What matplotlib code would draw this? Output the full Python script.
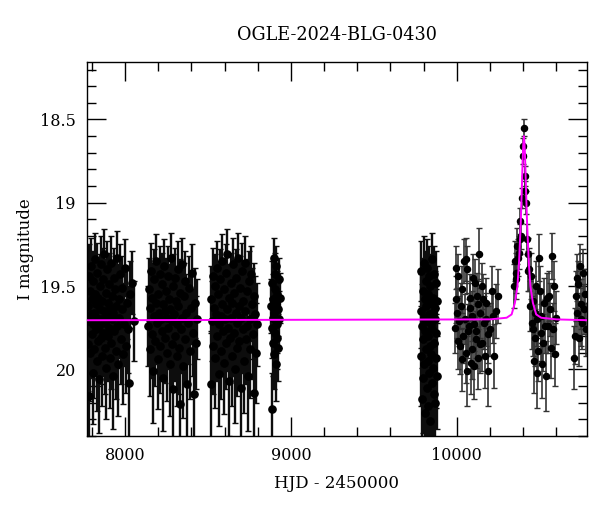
import matplotlib
matplotlib.use('Agg')
import matplotlib.pyplot as plt
import numpy as np
from matplotlib.ticker import MultipleLocator

plt.rcParams['font.family'] = 'DejaVu Serif'

# OGLE seasons: HJD - 2450000, I magnitude, error
s1_t = [7776, 7779, 7781, 7784, 7786, 7789, 7792, 7794, 7797, 7799, 7802, 7805, 7807, 7810, 7812, 7815,
        7818, 7821, 7823, 7826, 7829, 7831, 7834, 7837, 7840, 7842, 7845, 7848, 7851, 7853, 7856, 7859,
        7862, 7864, 7867, 7870, 7873, 7876, 7878, 7881, 7884, 7887, 7890, 7893, 7896, 7899, 7902, 7905,
        7908, 7911, 7914, 7917, 7920, 7923, 7927, 7930, 7933, 7936, 7940, 7943, 7947, 7950, 7954, 7958,
        7962, 7966, 7970, 7974, 7979, 7983, 7988, 7993, 7998, 8004, 8010, 8017, 8024, 8032, 8041, 8052]
s1_mag = [19.62, 19.85, 19.44, 20.16, 19.71, 19.53, 19.90, 19.67, 19.38, 19.79,
          19.58, 20.02, 19.73, 19.47, 19.66, 19.88, 19.55, 19.34, 19.76, 19.61,
          19.95, 19.69, 19.42, 19.83, 19.57, 19.74, 20.06, 19.50, 19.64, 19.81,
          19.37, 19.70, 19.92, 19.59, 19.46, 19.78, 19.65, 19.31, 19.87, 19.72,
          19.54, 19.99, 19.68, 19.40, 19.80, 19.60, 19.75, 19.49, 19.93, 19.63,
          19.36, 19.84, 19.70, 19.56, 20.04, 19.66, 19.45, 19.77, 19.52, 19.89,
          19.62, 19.33, 19.74, 19.97, 19.58, 19.69, 19.43, 19.82, 19.64, 19.51,
          19.91, 19.73, 19.39, 19.86, 19.60, 19.76, 20.08, 19.55, 19.48, 19.71]
s1_err = [0.22, 0.28, 0.19, 0.33, 0.24, 0.20, 0.29, 0.23, 0.17, 0.26,
          0.21, 0.31, 0.25, 0.18, 0.23, 0.29, 0.20, 0.16, 0.26, 0.22,
          0.30, 0.24, 0.18, 0.27, 0.21, 0.25, 0.32, 0.19, 0.23, 0.28,
          0.17, 0.24, 0.30, 0.21, 0.19, 0.26, 0.23, 0.15, 0.28, 0.25,
          0.20, 0.31, 0.24, 0.17, 0.27, 0.22, 0.25, 0.19, 0.30, 0.23,
          0.16, 0.28, 0.24, 0.20, 0.32, 0.23, 0.18, 0.26, 0.20, 0.29,
          0.22, 0.16, 0.25, 0.31, 0.21, 0.24, 0.18, 0.27, 0.23, 0.19,
          0.30, 0.25, 0.17, 0.28, 0.22, 0.26, 0.33, 0.20, 0.19, 0.24]

s2_t = [8141, 8145, 8149, 8153, 8157, 8161, 8165, 8169, 8173, 8177, 8181, 8185, 8189, 8193, 8197, 8201,
        8205, 8209, 8213, 8217, 8221, 8224, 8228, 8232, 8236, 8240, 8243, 8247, 8251, 8255, 8258, 8262,
        8266, 8270, 8273, 8277, 8281, 8285, 8288, 8292, 8296, 8300, 8303, 8307, 8311, 8315, 8318, 8322,
        8326, 8330, 8334, 8338, 8342, 8346, 8350, 8355, 8359, 8364, 8369, 8374, 8379, 8385, 8391, 8397,
        8403, 8410, 8416, 8422, 8428, 8434]
s2_mag = [19.74, 19.52, 19.88, 19.63, 19.41, 19.79, 19.57, 20.01, 19.68, 19.46,
          19.83, 19.60, 19.35, 19.72, 19.94, 19.55, 19.66, 19.43, 19.86, 19.70,
          19.49, 19.77, 20.05, 19.61, 19.38, 19.81, 19.65, 19.53, 19.90, 19.69,
          19.44, 19.75, 19.58, 19.97, 19.64, 19.33, 19.85, 19.71, 19.50, 20.12,
          19.67, 19.45, 19.80, 19.59, 19.92, 19.73, 19.40, 19.62, 19.87, 20.21,
          19.54, 19.76, 19.37, 19.69, 19.98, 19.56, 19.82, 19.47, 19.66, 20.09,
          19.72, 19.51, 19.89, 19.63, 19.42, 19.78, 20.15, 19.60, 19.84, 19.70]
s2_err = [0.24, 0.19, 0.28, 0.22, 0.17, 0.26, 0.21, 0.31, 0.23, 0.18,
          0.27, 0.21, 0.16, 0.25, 0.30, 0.20, 0.23, 0.17, 0.28, 0.24,
          0.19, 0.26, 0.32, 0.22, 0.16, 0.27, 0.23, 0.20, 0.29, 0.24,
          0.18, 0.25, 0.21, 0.31, 0.23, 0.15, 0.28, 0.24, 0.19, 0.33,
          0.23, 0.18, 0.27, 0.21, 0.30, 0.25, 0.17, 0.22, 0.28, 0.34,
          0.20, 0.26, 0.16, 0.24, 0.31, 0.20, 0.27, 0.18, 0.23, 0.32,
          0.25, 0.19, 0.29, 0.22, 0.17, 0.26, 0.33, 0.21, 0.28, 0.24]

s3_t = [8516, 8520, 8524, 8528, 8532, 8536, 8540, 8544, 8548, 8552, 8556, 8560, 8564, 8568, 8572, 8576,
        8580, 8583, 8587, 8591, 8595, 8598, 8602, 8606, 8610, 8613, 8617, 8621, 8625, 8628, 8632, 8636,
        8640, 8643, 8647, 8651, 8655, 8658, 8662, 8666, 8670, 8673, 8677, 8681, 8685, 8689, 8693, 8697,
        8701, 8705, 8709, 8713, 8717, 8721, 8725, 8729, 8733, 8737, 8742, 8746, 8751, 8755, 8760, 8765,
        8770, 8775, 8780, 8785, 8790, 8794]
s3_mag = [19.58, 20.09, 19.71, 19.44, 19.86, 19.63, 19.50, 19.93, 19.67, 19.39,
          19.80, 19.55, 20.03, 19.73, 19.46, 19.68, 19.89, 19.35, 19.61, 19.77,
          19.52, 19.96, 19.70, 19.42, 19.84, 19.64, 19.31, 19.75, 20.07, 19.57,
          19.81, 19.48, 19.69, 19.92, 19.60, 19.37, 19.78, 19.54, 20.00, 19.66,
          19.45, 19.87, 19.72, 19.33, 19.62, 19.83, 19.51, 20.11, 19.69, 19.41,
          19.76, 19.59, 19.95, 19.65, 19.36, 19.82, 19.53, 19.74, 20.04, 19.47,
          19.70, 19.88, 19.43, 19.61, 19.79, 20.14, 19.56, 19.67, 19.90, 19.73]
s3_err = [0.20, 0.32, 0.24, 0.17, 0.29, 0.22, 0.19, 0.30, 0.23, 0.16,
          0.27, 0.20, 0.31, 0.25, 0.18, 0.23, 0.29, 0.16, 0.21, 0.26,
          0.19, 0.31, 0.24, 0.17, 0.28, 0.22, 0.15, 0.26, 0.33, 0.20,
          0.27, 0.18, 0.24, 0.30, 0.21, 0.16, 0.26, 0.20, 0.32, 0.23,
          0.17, 0.29, 0.25, 0.15, 0.22, 0.28, 0.19, 0.34, 0.24, 0.17,
          0.26, 0.21, 0.31, 0.23, 0.16, 0.27, 0.19, 0.25, 0.33, 0.18,
          0.24, 0.29, 0.17, 0.22, 0.27, 0.35, 0.20, 0.23, 0.30, 0.25]

s4_t = [8881, 8883, 8885, 8887, 8889, 8891, 8893, 8895, 8897, 8899, 8901, 8903, 8905, 8907, 8909, 8911,
        8913, 8915, 8917, 8919, 8922, 8925, 8928, 8931, 8934]
s4_mag = [19.62, 20.24, 19.75, 19.48, 19.84, 19.58, 19.69, 19.33, 19.91, 19.66, 19.52, 19.78, 19.43,
          19.71, 19.97, 19.60, 19.38, 19.81, 19.55, 19.73, 19.64, 19.87, 19.46, 19.70, 19.57]
s4_err = [0.16, 0.22, 0.18, 0.13, 0.20, 0.15, 0.17, 0.12, 0.21, 0.16, 0.14, 0.18, 0.13,
          0.17, 0.22, 0.15, 0.12, 0.19, 0.14, 0.17, 0.16, 0.20, 0.13, 0.17, 0.15]

s5_t = [9781, 9784, 9786, 9789, 9790, 9793, 9795, 9796, 9799, 9801, 9802, 9805, 9807, 9808, 9811, 9812,
        9815, 9817, 9818, 9821, 9823, 9824, 9827, 9829, 9830, 9833, 9834, 9837, 9839, 9840, 9843, 9845,
        9846, 9849, 9851, 9852, 9855, 9856, 9859, 9861, 9862, 9865, 9867, 9868, 9871, 9872, 9875, 9876,
        9878, 9880]
s5_mag = [19.65, 19.92, 19.41, 20.18, 19.74, 19.53, 20.05, 19.82, 19.36, 19.69,
          19.97, 19.58, 20.26, 19.77, 19.47, 19.88, 19.62, 20.11, 19.39, 19.71,
          19.95, 19.55, 20.22, 19.80, 19.44, 19.67, 20.02, 19.86, 19.50, 20.31,
          19.73, 19.60, 19.91, 19.34, 20.08, 19.76, 19.57, 19.99, 19.66, 20.15,
          19.43, 19.84, 19.63, 20.20, 19.70, 19.48, 19.93, 19.78, 20.04, 19.59]
s5_err = [0.22, 0.30, 0.18, 0.36, 0.25, 0.20, 0.33, 0.28, 0.16, 0.23,
          0.31, 0.21, 0.38, 0.27, 0.18, 0.29, 0.22, 0.34, 0.17, 0.24,
          0.30, 0.20, 0.37, 0.27, 0.18, 0.23, 0.32, 0.28, 0.19, 0.40,
          0.25, 0.21, 0.30, 0.16, 0.33, 0.26, 0.20, 0.31, 0.23, 0.35,
          0.17, 0.28, 0.22, 0.36, 0.24, 0.19, 0.30, 0.26, 0.32, 0.21]

s6_t = [9988, 9992, 9996, 10002, 10006, 10008, 10013, 10018, 10022, 10028, 10031, 10038, 10042, 10048,
        10052, 10055, 10062, 10064, 10068, 10074, 10078, 10082, 10086, 10090, 10094, 10098, 10102, 10106,
        10108, 10113, 10118, 10122, 10126, 10130, 10134, 10138, 10142, 10149, 10153, 10158, 10163, 10169,
        10173, 10178, 10185, 10190, 10199, 10209, 10215, 10223, 10235, 10249]
s6_mag = [19.75, 19.39, 19.58, 19.66, 19.83, 19.44, 19.71, 19.86, 19.62, 19.52, 19.94, 19.80, 19.35, 19.70,
          19.34, 19.90, 19.40, 20.01, 19.77, 19.74, 19.57, 19.63, 19.96, 19.68, 19.88, 19.45, 19.98, 19.73,
          19.48, 19.82, 19.77, 19.56, 19.93, 19.61, 19.31, 19.66, 19.85, 19.84, 19.50, 19.58, 19.72, 19.92,
          19.60, 19.70, 20.01, 19.79, 19.76, 19.53, 19.68, 19.92, 19.65, 19.56]
s6_err = [0.15, 0.13, 0.14, 0.15, 0.17, 0.13, 0.15, 0.17, 0.14, 0.14, 0.19, 0.16, 0.13, 0.15,
          0.13, 0.18, 0.14, 0.21, 0.16, 0.16, 0.14, 0.15, 0.19, 0.15, 0.18, 0.14, 0.20, 0.16,
          0.14, 0.17, 0.16, 0.14, 0.19, 0.15, 0.16, 0.15, 0.17, 0.17, 0.14, 0.15, 0.16, 0.19,
          0.15, 0.16, 0.21, 0.17, 0.16, 0.15, 0.16, 0.19, 0.16, 0.16]

s7_t = [10342, 10349, 10355, 10359, 10363, 10368, 10373, 10378, 10383, 10386, 10390, 10396, 10399, 10404,
        10408, 10412, 10416, 10420, 10426, 10430, 10436, 10440, 10446, 10450, 10456, 10460, 10464, 10468,
        10472, 10476, 10480, 10485, 10490, 10496, 10500, 10505, 10510, 10515, 10520, 10525, 10530, 10536,
        10542, 10550, 10556, 10564, 10570, 10576, 10580, 10584, 10590, 10596]
s7_mag = [19.50, 19.35, 19.42, 19.46, 19.26, 19.33, 19.30, 19.22, 19.11, 19.20, 18.97, 18.66, 18.72, 18.55,
          18.84, 18.93, 19.00, 19.22, 19.31, 19.41, 19.40, 19.62, 19.44, 19.72, 19.76, 19.59, 19.95, 19.81,
          19.66, 19.50, 20.02, 19.70, 19.89, 19.33, 19.53, 19.78, 19.68, 19.97, 19.84, 19.60, 19.74, 20.04,
          19.57, 19.74, 19.56, 19.64, 19.87, 19.32, 19.76, 19.50, 19.91, 19.69]
s7_err = [0.13, 0.12, 0.12, 0.12, 0.11, 0.11, 0.10, 0.09, 0.08, 0.08, 0.06, 0.05, 0.05, 0.05,
          0.06, 0.06, 0.07, 0.09, 0.10, 0.12, 0.13, 0.15, 0.14, 0.16, 0.16, 0.15, 0.19, 0.17,
          0.16, 0.15, 0.21, 0.16, 0.18, 0.14, 0.15, 0.17, 0.16, 0.20, 0.17, 0.15, 0.16, 0.21,
          0.15, 0.16, 0.15, 0.16, 0.18, 0.14, 0.16, 0.15, 0.19, 0.16]

s8_t = [10707, 10711, 10717, 10721, 10726, 10731, 10737, 10741, 10746, 10751, 10757, 10761, 10767, 10771, 10777]
s8_mag = [19.93, 19.80, 19.56, 19.66, 19.45, 19.49, 19.81, 19.38, 19.70, 19.61, 19.72, 19.42, 19.64, 19.55, 19.76]
s8_err = [0.19, 0.17, 0.15, 0.16, 0.14, 0.14, 0.17, 0.13, 0.16, 0.15, 0.16, 0.14, 0.15, 0.15, 0.16]

# microlensing model
model_t = [7770, 10200, 10300, 10330, 10350, 10365, 10375, 10385, 10391, 10396, 10400, 10404,
           10408, 10412, 10417, 10423, 10433, 10443, 10458, 10478, 10508, 10600, 10790]
model_mag = [19.705, 19.70, 19.69, 19.67, 19.60, 19.50, 19.35, 19.12, 18.93, 18.76, 18.65, 18.60,
             18.65, 18.76, 18.93, 19.12, 19.35, 19.50, 19.60, 19.67, 19.69, 19.70, 19.705]

dense = [(s1_t, s1_mag, s1_err), (s2_t, s2_mag, s2_err), (s3_t, s3_mag, s3_err),
         (s4_t, s4_mag, s4_err), (s5_t, s5_mag, s5_err)]
sparse = [(s6_t, s6_mag, s6_err), (s7_t, s7_mag, s7_err), (s8_t, s8_mag, s8_err)]

fig = plt.figure(figsize=(6, 5.12), dpi=100)
ax = fig.add_axes([0.145, 0.1484, 0.833, 0.7305])

for st, sm, se in dense:
    ax.errorbar(st, sm, yerr=se, fmt='o', ms=5.2, mfc='black', mec='black',
                ecolor='0.05', elinewidth=1.7, capsize=2.4, capthick=1.0, zorder=2)
for st, sm, se in sparse:
    ax.errorbar(st, sm, yerr=se, fmt='o', ms=4.4, mfc='black', mec='black',
                ecolor='0.2', elinewidth=1.2, capsize=2.4, capthick=1.0, zorder=2)
ax.plot(model_t, model_mag, color='#ff00ff', lw=1.4, zorder=3)

ax.set_xlim(7771, 10783)
ax.set_ylim(20.4, 18.155)

ax.xaxis.set_major_locator(MultipleLocator(1000))
ax.xaxis.set_minor_locator(MultipleLocator(200))
ax.yaxis.set_major_locator(MultipleLocator(0.5))
ax.yaxis.set_minor_locator(MultipleLocator(0.1))
ax.yaxis.set_major_formatter(plt.FuncFormatter(lambda v, p: f'{v:g}'))

ax.tick_params(which='both', direction='in', top=True, right=True, labelsize=11.5, width=1, pad=8)
ax.tick_params(which='major', length=13.5)
ax.tick_params(which='minor', length=6.5)
for s in ax.spines.values():
    s.set_linewidth(1)

ax.set_title('OGLE-2024-BLG-0430', fontsize=12.7, pad=16)
ax.set_xlabel('HJD - 2450000', fontsize=12, labelpad=8)
ax.set_ylabel('I magnitude', fontsize=12)

fig.savefig('out.png', dpi=100)
